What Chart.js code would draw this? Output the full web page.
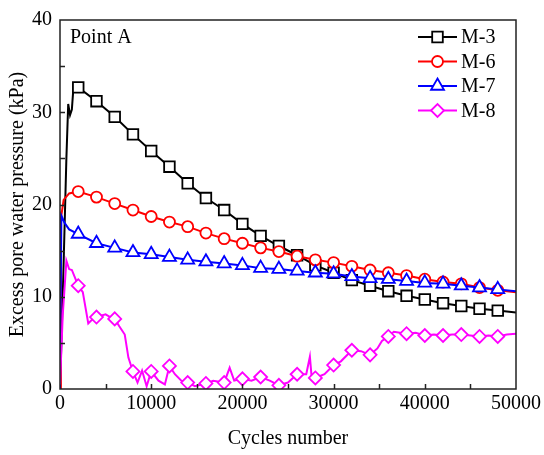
<!DOCTYPE html>
<html>
<head>
<meta charset="utf-8">
<script src="https://cdn.jsdelivr.net/npm/chart.js@4/dist/chart.umd.min.js"></script>
<style>
  html, body { margin: 0; padding: 0; background: #fff; }
</style>
</head>
<body>
<canvas id="pwpCanvas" width="544" height="455"></canvas>
<script>
// cycles / excess pore water pressure (kPa)
const m3Cycles = [0, 300, 700, 900, 1100, 1300, 1500, 2000, 4000, 6000, 8000, 10000, 12000, 14000, 16000, 18000, 20000, 22000, 24000, 26000, 28000, 30000, 32000, 34000, 36000, 38000, 40000, 42000, 44000, 46000, 48000, 50000];
const m3Values = [0, 10, 25, 30.9, 29.7, 30.3, 33, 32.7, 31.2, 29.5, 27.6, 25.8, 24.1, 22.3, 20.7, 19.4, 17.9, 16.6, 15.5, 14.5, 13.4, 12.6, 11.8, 11.2, 10.6, 10.1, 9.7, 9.3, 9.0, 8.7, 8.5, 8.3];

const m6Cycles = [0, 100, 400, 1000, 2000, 4000, 6000, 8000, 10000, 12000, 14000, 16000, 18000, 20000, 22000, 24000, 26000, 28000, 30000, 32000, 34000, 36000, 38000, 40000, 42000, 44000, 46000, 48000, 50000];
const m6Values = [0, 18.5, 20.5, 21.2, 21.4, 20.8, 20.1, 19.4, 18.7, 18.1, 17.6, 16.9, 16.3, 15.8, 15.3, 14.9, 14.4, 14.0, 13.7, 13.3, 12.9, 12.6, 12.3, 11.9, 11.6, 11.4, 11.0, 10.7, 10.5];

const m7Cycles = [0, 150, 500, 1000, 2000, 4000, 6000, 8000, 10000, 12000, 14000, 16000, 18000, 20000, 22000, 24000, 26000, 28000, 30000, 32000, 34000, 36000, 38000, 40000, 42000, 44000, 46000, 48000, 50000];
const m7Values = [0, 18.8, 18.0, 17.3, 16.8, 15.8, 15.3, 14.8, 14.6, 14.3, 14.0, 13.8, 13.6, 13.4, 13.1, 13.0, 12.8, 12.6, 12.5, 12.2, 12.0, 11.9, 11.7, 11.5, 11.4, 11.2, 11.0, 10.8, 10.6];

const m8Cycles = [0, 300, 700, 1000, 1300, 2000, 2500, 3100, 3500, 4000, 5000, 5500, 6000, 6500, 7100, 7500, 8000, 8500, 9000, 9500, 10000, 10800, 11500, 12000, 12600, 13300, 14000, 14800, 16000, 16800, 18000, 18600, 19100, 20000, 21000, 22000, 23000, 24000, 25000, 26000, 27000, 27400, 27600, 28000, 29000, 30000, 30800, 32000, 33000, 34000, 34800, 35300, 36000, 36600, 38000, 39000, 40000, 41000, 42000, 43000, 44000, 45000, 46000, 47000, 48000, 49000, 50000];
const m8Values = [0.5, 8, 13.9, 13.0, 12.9, 11.2, 10.5, 7.1, 7.5, 7.8, 8.1, 7.8, 7.6, 6.8, 5.9, 3.4, 1.9, 0.7, 2.0, 0.3, 1.9, 0.9, 0.5, 2.5, 1.6, 0.9, 0.7, 0.3, 0.6, 0.9, 0.7, 2.3, 0.9, 1.1, 0.9, 1.3, 0.9, 0.4, 0.7, 1.6, 1.6, 3.5, 1.2, 1.2, 1.6, 2.6, 3.0, 4.2, 4.1, 3.7, 4.4, 5.2, 5.7, 6.2, 6.0, 6.1, 5.8, 5.9, 5.8, 5.9, 5.9, 5.8, 5.7, 5.8, 5.7, 5.9, 6.0];

const seriesNames = ['M-3', 'M-6', 'M-7', 'M-8'];
const xTicks = [0, 10000, 20000, 30000, 40000, 50000];
const yTicks = [0, 10, 20, 30, 40];

const FONT = "'Liberation Serif', 'Times New Roman', serif";

function pts(xs, ys) {
  return xs.map((x, i) => ({ x: x, y: ys[i] }));
}

// markers only every 2000 cycles
function markerRadius(r) {
  return ctx => {
    const p = ctx.raw;
    if (!p) return 0;
    return (p.x > 0 && p.x < 50000 && p.x % 2000 === 0) ? r : 0;
  };
}

const styles = [
  { color: '#000000', pointStyle: 'rect', radius: 7.5 },
  { color: '#ff0000', pointStyle: 'circle', radius: 5.5 },
  { color: '#0000ff', pointStyle: 'triangle', radius: 7.5 },
  { color: '#ff00ff', pointStyle: 'rectRot', radius: 6.5 }
];

const allData = [pts(m3Cycles, m3Values), pts(m6Cycles, m6Values), pts(m7Cycles, m7Values), pts(m8Cycles, m8Values)];

const datasets = seriesNames.map((name, i) => ({
  label: name,
  data: allData[i],
  borderColor: styles[i].color,
  backgroundColor: '#ffffff',
  borderWidth: 2,
  tension: 0,
  pointStyle: styles[i].pointStyle,
  pointRadius: markerRadius(styles[i].radius),
  pointBorderWidth: 1.8,
  pointBorderColor: styles[i].color,
  pointBackgroundColor: '#ffffff',
  order: 4 - i
}));

// frame, inward ticks, "Point A" and the line+marker legend
const decorations = {
  id: 'decorations',
  afterDraw(chart) {
    const c = chart.ctx;
    const a = chart.chartArea;
    const xs = chart.scales.x, ys = chart.scales.y;
    c.save();
    c.strokeStyle = '#222';
    c.lineWidth = 1.5;
    c.strokeRect(a.left, a.top, a.right - a.left, a.bottom - a.top);
    c.beginPath();
    for (let v = 5000; v < 50000; v += 5000) {
      const px = Math.round(xs.getPixelForValue(v)) + 0.5;
      c.moveTo(px, a.bottom);
      c.lineTo(px, a.bottom - 5);
    }
    for (let v = 5; v < 40; v += 5) {
      const py = Math.round(ys.getPixelForValue(v)) + 0.5;
      c.moveTo(a.left, py);
      c.lineTo(a.left + 5, py);
    }
    c.stroke();

    c.fillStyle = '#000';
    c.font = '20px ' + FONT;
    c.textBaseline = 'middle';
    c.textAlign = 'left';
    c.fillText('Point A', 70, 38);

    seriesNames.forEach((name, i) => {
      const y = 37 + i * 24.5;
      c.strokeStyle = styles[i].color;
      c.lineWidth = 2;
      c.beginPath();
      c.moveTo(418, y);
      c.lineTo(457, y);
      c.stroke();
      c.fillStyle = '#ffffff';
      c.lineWidth = 1.8;
      Chart.helpers.drawPoint(c, { pointStyle: styles[i].pointStyle, radius: styles[i].radius, borderWidth: 1.8, rotation: 0 }, 437.5, y);
      c.fillStyle = '#000';
      c.fillText(name, 461, y + 1);
    });
    c.restore();
  }
};

new Chart(document.getElementById('pwpCanvas'), {
  type: 'line',
  data: { datasets: datasets },
  options: {
    responsive: false,
    animation: false,
    devicePixelRatio: 1,
    layout: { padding: { top: 16, right: 27, left: 0, bottom: 0 } },
    plugins: { legend: { display: false }, tooltip: { enabled: false } },
    scales: {
      x: {
        type: 'linear',
        min: 0,
        max: 50000,
        afterBuildTicks: s => { s.ticks = xTicks.map(v => ({ value: v })); },
        afterFit: s => { s.height = 66; },
        grid: { display: false, drawTicks: false, tickLength: 0 },
        border: { display: false },
        ticks: {
          color: '#000',
          font: { family: FONT, size: 20 },
          padding: 3,
          maxRotation: 0,
          callback: v => String(v)
        },
        title: {
          display: true,
          text: 'Cycles number',
          color: '#000',
          font: { family: FONT, size: 20 },
          padding: { top: 0, bottom: 4 }
        }
      },
      y: {
        min: 0,
        max: 40,
        afterBuildTicks: s => { s.ticks = yTicks.map(v => ({ value: v })); },
        afterFit: s => { s.width = 60; },
        grid: { display: false, drawTicks: false, tickLength: 0 },
        border: { display: false },
        ticks: {
          color: '#000',
          font: { family: FONT, size: 20 },
          padding: 8,
          callback: v => String(v)
        },
        title: {
          display: true,
          text: 'Excess pore water pressure (kPa)',
          color: '#000',
          font: { family: FONT, size: 20 },
          padding: { top: 6, bottom: 0 }
        }
      }
    }
  },
  plugins: [decorations]
});
</script>
</body>
</html>
